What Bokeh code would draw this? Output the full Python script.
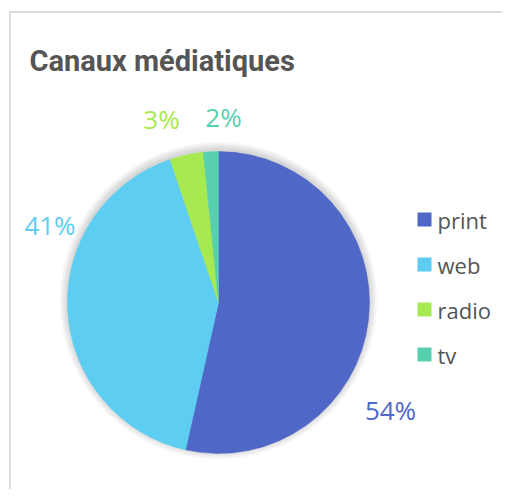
from bokeh.plotting import figure
from bokeh.models import Range1d, ColumnDataSource
from bokeh.core.properties import value
from bokeh.embed import file_html
from bokeh.resources import INLINE
import math

title = "Canaux médiatiques"
categories = ["print", "web", "radio", "tv"]
shares = [53.5, 41.3, 3.6, 1.6]
pct_labels = ["54%", "41%", "3%", "2%"]
colors = ["#4F67C6", "#5DCDF1", "#A6E951", "#58D0AF"]

W, H = 502, 489
p = figure(width=W, height=H, output_backend="svg", toolbar_location=None,
           x_range=Range1d(0, W), y_range=Range1d(8, 8 + H), min_border=0)
p.axis.visible = False
p.grid.visible = False
p.outline_line_color = None
p.background_fill_color = "white"
p.border_fill_color = "white"

# card border (left and top edges only), as thin filled strips
p.quad(left=[8.5, 8.5], right=[10.5, 502], bottom=[8, 484.5], top=[486.5, 486.5],
       fill_color="#dcdcdc", line_color=None)

# title
p.text(x=[29], y=[437], text=[title], text_font=value("Roboto"),
       text_font_size="29px", text_font_style="bold", text_color="#555555",
       text_baseline="alphabetic", text_align="left")

cx, cy, R = 218, 195, 151

# shadow
for k in range(1, 9):
    p.circle(x=[cx], y=[cy + 2], radius=R + k, fill_color="black",
             fill_alpha=0.018, line_color=None)

total = sum(shares)
starts, ends = [], []
cum = 0.0
for s in shares:
    starts.append(math.pi / 2 - 2 * math.pi * cum / total)
    cum += s
    ends.append(math.pi / 2 - 2 * math.pi * cum / total)

src = ColumnDataSource(dict(start=starts, end=ends, color=colors))
p.wedge(x=cx, y=cy, radius=R, start_angle="start", end_angle="end",
        direction="clock", fill_color="color", line_color="color",
        line_width=0.5, source=src)

# percentage labels
label_x = [390, 49.5, 161, 223]
label_y = [88, 273, 379, 381]
p.text(x=label_x, y=label_y, text=pct_labels, text_color=colors,
       text_font=value("Open Sans"), text_font_size="26px",
       text_align="center", text_baseline="middle")

# legend
leg_x = 424
leg_y = [278 - 45 * i for i in range(len(categories))]
p.scatter(x=[leg_x] * len(categories), y=leg_y, marker="square", size=14,
          fill_color=colors, line_color=None)
p.text(x=[leg_x + 13] * len(categories), y=leg_y, text=categories,
       text_color="#555555", text_font=value("Open Sans"), text_font_size="22px",
       text_align="left", text_baseline="middle")

open("out.html", "w").write(file_html(p, INLINE))
